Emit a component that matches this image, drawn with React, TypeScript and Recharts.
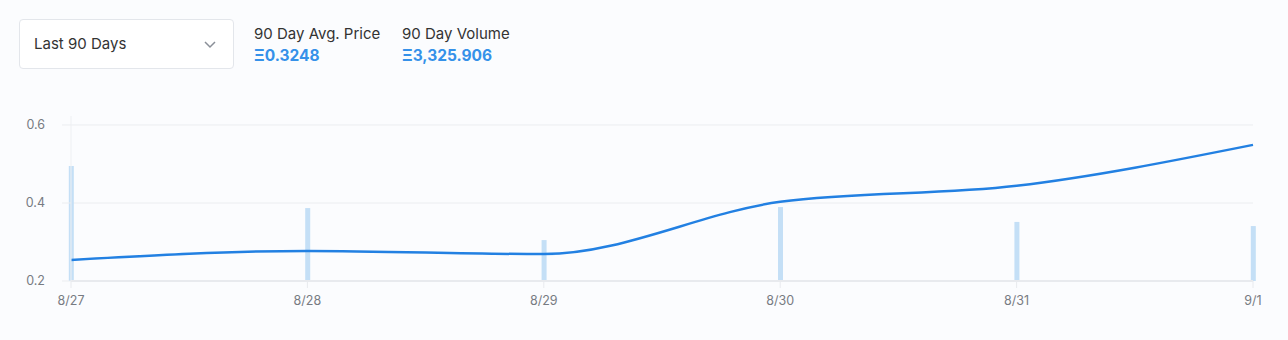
import { ComposedChart, Line, Bar, XAxis, YAxis, CartesianGrid } from "recharts"

const dates = ["8/27", "8/28", "8/29", "8/30", "8/31", "9/1"]
const avgPrice = [0.254, 0.277, 0.269, 0.403, 0.444, 0.549]
const volume = [69.7, 44.2, 24.8, 44.8, 35.8, 33.3]
const priceTicks = [0.2, 0.4, 0.6]

const data = dates.map((d, i) => ({ idx: i, date: d, price: avgPrice[i], volume: volume[i] }))

const FONT = "Inter, 'Open Sans', sans-serif"

export default function App() {
  return (
    <div
      style={{
        position: "absolute", left: 0, top: 0, width: 1288, height: 340,
        background: "#fbfcfe", fontFamily: FONT, overflow: "hidden",
      }}
    >
      {/* period select */}
      <div
        style={{
          position: "absolute", left: 19, top: 19, width: 215, height: 50,
          background: "#fff", border: "1px solid #e3e6eb", borderRadius: 4,
          boxSizing: "border-box",
        }}
      >
        <span style={{ position: "absolute", left: 14, top: 14, fontSize: 15, color: "#333" }}>
          Last 90 Days
        </span>
        <svg width="12" height="8" style={{ position: "absolute", left: 184, top: 21 }}>
          <path d="M1 1 L6 6 L11 1" fill="none" stroke="#8a8f98" strokeWidth="1.5" />
        </svg>
      </div>

      {/* stats */}
      <Stat left={254} label="90 Day Avg. Price" value="Ξ0.3248" />
      <Stat left={402} label="90 Day Volume" value="Ξ3,325.906" />

      <div style={{ position: "absolute", left: 0, top: 0 }}>
        <ComposedChart
          width={1288}
          height={340}
          data={data}
          margin={{ top: 116, right: 35, bottom: 0, left: 0 }}
        >
          <CartesianGrid vertical={false} stroke="#ebedf0" yAxisId="price" syncWithTicks />
          <XAxis
            dataKey="idx"
            type="number"
            domain={[0, dates.length - 1]}
            ticks={data.map((d) => d.idx)}
            tickFormatter={(v: number) => dates[v]}
            interval={0}
            height={59}
            axisLine={{ stroke: "#e8eaee", strokeWidth: 2 }}
            tickLine={{ stroke: "#e8eaee" }}
            tickSize={7}
            tickMargin={8}
            tick={{ fontSize: 12.5, fill: "#777b82", fontFamily: FONT }}
          />
          <YAxis
            yAxisId="price"
            domain={[0.2, 0.623]}
            ticks={priceTicks}
            allowDataOverflow
            width={71}
            axisLine={{ stroke: "#eef0f3" }}
            tickLine={{ stroke: "#ebedf0" }}
            tickSize={9}
            tickMargin={17}
            tick={{ fontSize: 12.5, fill: "#777b82", fontFamily: FONT }}
          />
          <YAxis yAxisId="volume" hide domain={[0, 100]} />
          <Bar
            yAxisId="volume"
            dataKey="volume"
            barSize={5}
            fill="#c4dff6"
            isAnimationActive={false}
          />
          <Line
            yAxisId="price"
            type="monotone"
            dataKey="price"
            stroke="#2280e2"
            strokeWidth={2.5}
            dot={false}
            activeDot={false}
            isAnimationActive={false}
          />
        </ComposedChart>
      </div>
    </div>
  )
}

function Stat({ left, label, value }: { left: number; label: string; value: string }) {
  return (
    <div style={{ position: "absolute", left, top: 23 }}>
      <div style={{ fontSize: 15, color: "#333", lineHeight: "21px" }}>{label}</div>
      <div style={{ fontSize: 15.5, fontWeight: 700, color: "#3591e9", lineHeight: "24px" }}>{value}</div>
    </div>
  )
}
